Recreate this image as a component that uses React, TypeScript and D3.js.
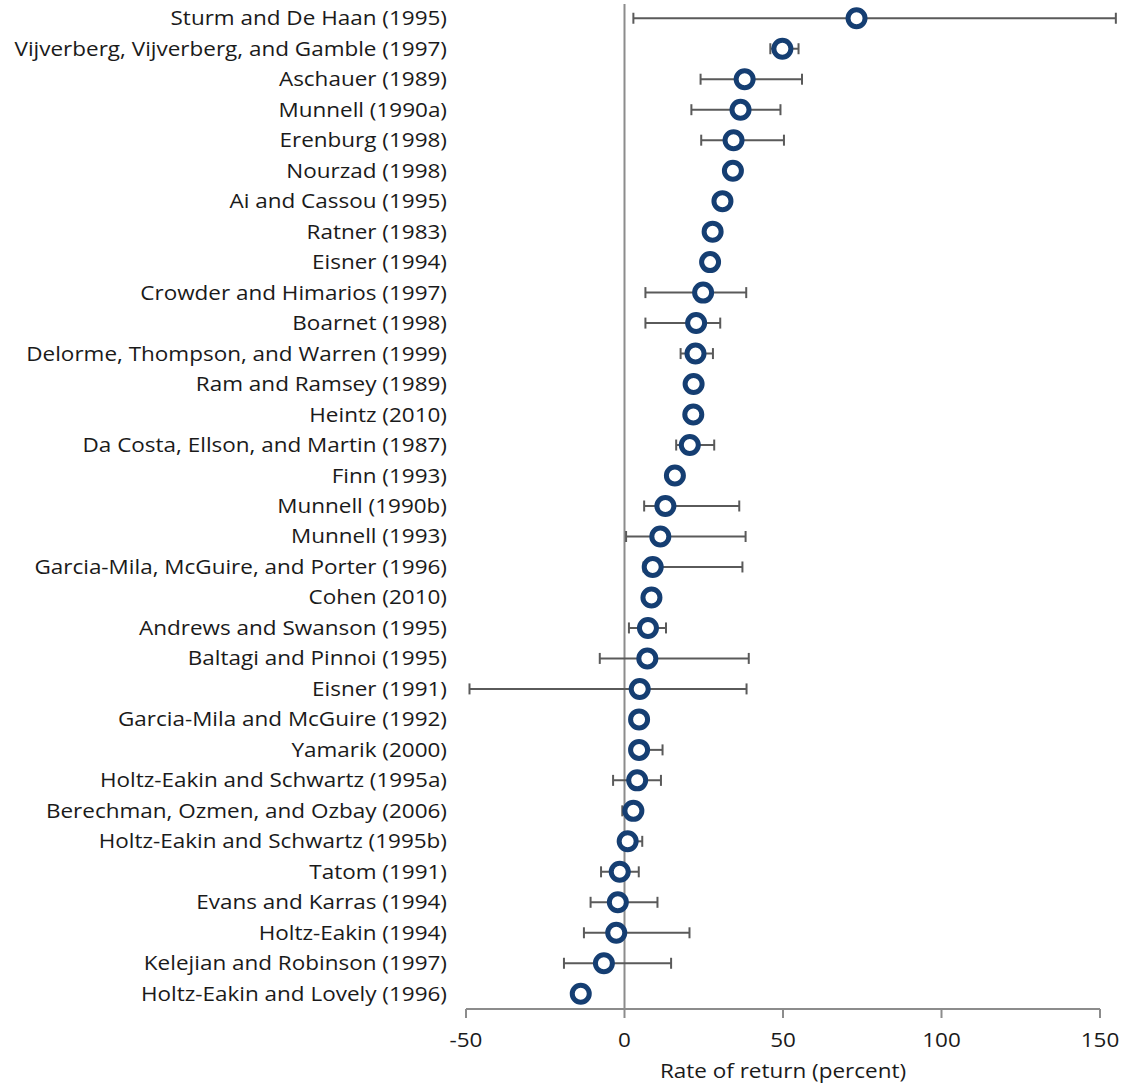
import React from "react";
import * as d3 from "d3";

const studies: string[] = [
  "Sturm and De Haan (1995)",
  "Vijverberg, Vijverberg, and Gamble (1997)",
  "Aschauer (1989)",
  "Munnell (1990a)",
  "Erenburg (1998)",
  "Nourzad (1998)",
  "Ai and Cassou (1995)",
  "Ratner (1983)",
  "Eisner (1994)",
  "Crowder and Himarios (1997)",
  "Boarnet (1998)",
  "Delorme, Thompson, and Warren (1999)",
  "Ram and Ramsey (1989)",
  "Heintz (2010)",
  "Da Costa, Ellson, and Martin (1987)",
  "Finn (1993)",
  "Munnell (1990b)",
  "Munnell (1993)",
  "Garcia-Mila, McGuire, and Porter (1996)",
  "Cohen (2010)",
  "Andrews and Swanson (1995)",
  "Baltagi and Pinnoi (1995)",
  "Eisner (1991)",
  "Garcia-Mila and McGuire (1992)",
  "Yamarik (2000)",
  "Holtz-Eakin and Schwartz (1995a)",
  "Berechman, Ozmen, and Ozbay (2006)",
  "Holtz-Eakin and Schwartz (1995b)",
  "Tatom (1991)",
  "Evans and Karras (1994)",
  "Holtz-Eakin (1994)",
  "Kelejian and Robinson (1997)",
  "Holtz-Eakin and Lovely (1996)",
];

// point estimates (percent)
const estimates: number[] = [
  73.2, 49.8, 37.9, 36.6, 34.4, 34.2, 30.9, 27.8, 27.0, 24.8, 22.6, 22.4, 21.8,
  21.7, 20.6, 15.9, 12.9, 11.3, 8.9, 8.5, 7.4, 7.2, 4.8, 4.6, 4.6, 4.0, 2.8, 1.0,
  -1.5, -2.1, -2.6, -6.5, -13.8,
];

// lower / upper ends of the ranges (null = no range shown)
const lows: (number | null)[] = [
  2.8, 46, 24.0, 21.1, 24.2, null, null, null, null, 6.6, 6.6, 17.7, null, null,
  16.3, null, 6.2, 0.5, 6, null, 1.4, -7.8, -48.9, null, 3, -3.6, -0.7, -1,
  -7.4, -10.7, -12.8, -19.1, null,
];
const highs: (number | null)[] = [
  155, 54.9, 56.0, 49.2, 50.3, null, null, null, null, 38.4, 30.2, 27.9, null,
  null, 28.3, null, 36.2, 38.2, 37.2, null, 13.1, 39.2, 38.5, null, 12.0, 11.5,
  4, 5.6, 4.5, 10.4, 20.5, 14.7, null,
];

const xTicks: number[] = [-50, 0, 50, 100, 150];

const width = 1121;
const height = 1084;
const left = 466;
const right = 1100;
const top = 3;
const bottom = 1009;
const font = "'Open Sans', sans-serif";
const stretch = 1.125; // the original text is set wide

const x = d3.scaleLinear().domain([-50, 150]).range([left, right]);
const y = d3
  .scaleBand<string>()
  .domain(studies)
  .range([top, bottom]);

const Label = ({ x, y, anchor, children }: { x: number; y: number; anchor: string; children: React.ReactNode }) => (
  <text
    transform={`translate(${x},${y}) scale(${stretch},1)`}
    textAnchor={anchor}
    fontFamily={font}
    fontSize={20}
    fill="#1a1a1a"
  >
    {children}
  </text>
);

const App = () => {
  const cy = (s: string) => (y(s) ?? 0) + y.bandwidth() / 2;
  return (
    <svg
      width={width}
      height={height}
      style={{ position: "absolute", left: 0, top: 0, display: "block" }}
    >
      {/* zero line */}
      <line x1={x(0)} x2={x(0)} y1={top + 1} y2={bottom} stroke="#8c8c8c" strokeWidth={2} />
      {/* x axis */}
      <line x1={left} x2={right} y1={bottom} y2={bottom} stroke="#8c8c8c" strokeWidth={2} />
      {xTicks.map((t) => (
        <g key={t}>
          <line x1={x(t)} x2={x(t)} y1={bottom} y2={bottom + 9} stroke="#8c8c8c" strokeWidth={2} />
          <Label x={x(t)} y={bottom + 38} anchor="middle">
            {t}
          </Label>
        </g>
      ))}
      <Label x={(left + right) / 2} y={bottom + 69} anchor="middle">
        Rate of return (percent)
      </Label>

      {/* labels */}
      {studies.map((s) => (
        <Label key={s} x={left - 19} y={cy(s) + 7} anchor="end">
          {s}
        </Label>
      ))}

      {/* ranges */}
      {studies.map((s, i) => {
        const lo = lows[i];
        const hi = highs[i];
        if (lo == null || hi == null) return null;
        const yy = cy(s);
        return (
          <g key={s} stroke="#5a5a5a" strokeWidth={2}>
            <line x1={x(lo)} x2={x(hi)} y1={yy} y2={yy} />
            <line x1={x(lo)} x2={x(lo)} y1={yy - 5.5} y2={yy + 5.5} />
            <line x1={x(hi)} x2={x(hi)} y1={yy - 5.5} y2={yy + 5.5} />
          </g>
        );
      })}

      {/* estimates */}
      {studies.map((s, i) => (
        <circle
          key={s}
          cx={x(estimates[i])}
          cy={cy(s)}
          r={8.5}
          fill="#fff"
          stroke="#153e72"
          strokeWidth={5}
        />
      ))}
    </svg>
  );
};

export default App;
